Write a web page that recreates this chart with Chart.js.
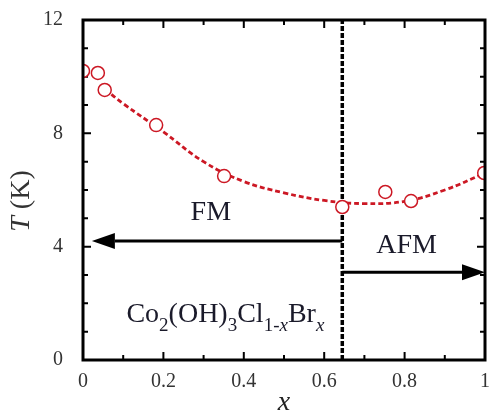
<!DOCTYPE html>
<html>
<head>
<meta charset="utf-8">
<script src="https://cdn.jsdelivr.net/npm/chart.js@4.4.1/dist/chart.umd.min.js"></script>
<style>
  html, body { margin: 0; padding: 0; background: #fff; }
  #wrap { width: 493px; height: 419px; }
</style>
</head>
<body>
<div id="wrap"><canvas id="phaseChart" width="493" height="419"></canvas></div>
<script>
// measured transition temperatures
const xValues = [0, 0.037, 0.054, 0.182, 0.351, 0.645, 0.752, 0.816, 0.998];
const tValues = [10.2, 10.13, 9.53, 8.29, 6.49, 5.4, 5.93, 5.61, 6.6];

// dashed guide curve through the data
const curveX = [0.055, 0.1, 0.2, 0.3, 0.4, 0.5, 0.6, 0.7, 0.8, 0.9, 1.0];
const curveT = [9.55, 9.05, 8.05, 7.0, 6.3, 5.9, 5.63, 5.52, 5.6, 6.0, 6.6];

// phase boundary and arrows
const boundaryX = 0.645;
const fmArrow = { from: boundaryX, to: 0.022, t: 4.2 };
const afmArrow = { from: boundaryX, to: 1.0, t: 3.1 };

const xTicks = [0, 0.2, 0.4, 0.6, 0.8, 1];
const yTicks = [0, 4, 8, 12];

const serif = "'Liberation Serif', 'DejaVu Serif', serif";
const red = 'rgb(204, 24, 36)';

function toPoints(xs, ys) {
    return xs.map((x, i) => ({ x: x, y: ys[i] }));
}

// inward ticks, frame, arrows and labels
const decorPlugin = {
    id: 'decor',
    beforeDatasetsDraw(chart) {
        const ctx = chart.ctx;
        const a = chart.chartArea;
        const xs = chart.scales.x;
        const ys = chart.scales.y;
        ctx.save();
        ctx.strokeStyle = '#000';
        ctx.lineWidth = 2;
        for (let i = 1; i < 10; i++) {
            const px = xs.getPixelForValue(i / 10);
            const len = i % 2 === 0 ? 8 : 5;
            ctx.beginPath();
            ctx.moveTo(px, a.bottom); ctx.lineTo(px, a.bottom - len);
            ctx.moveTo(px, a.top); ctx.lineTo(px, a.top + len);
            ctx.stroke();
        }
        for (let v = 1; v < 12; v++) {
            const py = ys.getPixelForValue(v);
            const len = v % 4 === 0 ? 8 : 5;
            ctx.beginPath();
            ctx.moveTo(a.left, py); ctx.lineTo(a.left + len, py);
            ctx.moveTo(a.right, py); ctx.lineTo(a.right - len, py);
            ctx.stroke();
        }
        ctx.restore();
    },
    afterDatasetsDraw(chart) {
        const ctx = chart.ctx;
        const a = chart.chartArea;
        const xs = chart.scales.x;
        const ys = chart.scales.y;
        ctx.save();

        // arrows
        [fmArrow, afmArrow].forEach(ar => {
            const x0 = xs.getPixelForValue(ar.from);
            const x1 = xs.getPixelForValue(ar.to);
            const py = ys.getPixelForValue(ar.t);
            const dir = x1 > x0 ? 1 : -1;
            const headLen = 23, headHalf = 8;
            ctx.strokeStyle = '#000';
            ctx.lineWidth = 3;
            ctx.beginPath();
            ctx.moveTo(x0, py);
            ctx.lineTo(x1 - dir * headLen, py);
            ctx.stroke();
            ctx.fillStyle = '#000';
            ctx.beginPath();
            ctx.moveTo(x1, py);
            ctx.lineTo(x1 - dir * headLen, py - headHalf);
            ctx.lineTo(x1 - dir * headLen, py + headHalf);
            ctx.closePath();
            ctx.fill();
        });

        // phase labels
        ctx.fillStyle = '#1a1a2a';
        ctx.textAlign = 'center';
        ctx.textBaseline = 'middle';
        ctx.font = '28px ' + serif;
        ctx.fillText('FM', xs.getPixelForValue(0.318), ys.getPixelForValue(5.2));
        ctx.fillText('AFM', xs.getPixelForValue(0.805), ys.getPixelForValue(4.05));

        // chemical formula with subscripts
        const parts = [
            ['Co', 0, false], ['2', 1, false], ['(OH)', 0, false], ['3', 1, false],
            ['Cl', 0, false], ['1-', 1, false], ['x', 1, true], ['Br', 0, false], ['x', 1, true]
        ];
        let px = xs.getPixelForValue(0.108);
        const base = ys.getPixelForValue(1.34);
        ctx.textAlign = 'left';
        ctx.textBaseline = 'alphabetic';
        parts.forEach(p => {
            const sub = p[1] === 1;
            ctx.font = (p[2] ? 'italic ' : '') + (sub ? '19px ' : '28px ') + serif;
            ctx.fillText(p[0], px, sub ? base + 9 : base);
            px += ctx.measureText(p[0]).width;
        });

        // frame
        ctx.strokeStyle = '#000';
        ctx.lineWidth = 3;
        ctx.strokeRect(a.left, a.top, a.right - a.left, a.bottom - a.top);

        // y title: T (K)
        ctx.translate(22, 201);
        ctx.rotate(-Math.PI / 2);
        ctx.fillStyle = '#333';
        ctx.textBaseline = 'middle';
        ctx.font = 'italic 28px ' + serif;
        const tw = ctx.measureText('T ').width;
        ctx.font = '28px ' + serif;
        const kw = ctx.measureText('(K)').width;
        let sx = -(tw + kw) / 2;
        ctx.font = 'italic 28px ' + serif;
        ctx.fillText('T ', sx, 0);
        ctx.font = '28px ' + serif;
        ctx.fillText('(K)', sx + tw, 0);
        ctx.restore();
    }
};

const ctx = document.getElementById('phaseChart').getContext('2d');
new Chart(ctx, {
    type: 'scatter',
    data: {
        datasets: [
            {
                label: 'data',
                data: toPoints(xValues, tValues),
                showLine: false,
                pointStyle: 'circle',
                pointRadius: 6.5,
                pointBorderWidth: 1.5,
                pointBorderColor: red,
                pointBackgroundColor: '#fff',
                order: 0
            },
            {
                label: 'fit',
                data: toPoints(curveX, curveT),
                showLine: true,
                borderColor: red,
                borderWidth: 2.8,
                borderDash: [5, 3],
                pointRadius: 0,
                tension: 0.4,
                order: 1
            },
            {
                label: 'boundary',
                data: [{ x: boundaryX, y: 0 }, { x: boundaryX, y: 12 }],
                showLine: true,
                borderColor: '#000',
                borderWidth: 3.5,
                borderDash: [5, 2],
                pointRadius: 0,
                order: 2
            }
        ]
    },
    options: {
        responsive: false,
        animation: false,
        layout: { padding: { left: 0, right: 3, top: 20, bottom: 0 } },
        plugins: {
            legend: { display: false },
            tooltip: { enabled: false }
        },
        scales: {
            x: {
                type: 'linear',
                min: 0,
                max: 1,
                afterFit: s => { s.height = 59; s.paddingLeft = 0; s.paddingRight = 0; },
                afterBuildTicks: s => { s.ticks = xTicks.map(v => ({ value: v })); },
                grid: { display: false, drawTicks: false },
                border: { display: false },
                ticks: {
                    padding: 10,
                    color: '#333',
                    font: { family: serif, size: 20 },
                    callback: v => String(v)
                },
                title: {
                    display: true,
                    text: 'x',
                    color: '#222',
                    padding: { top: 2, bottom: 0 },
                    font: { family: serif, size: 28, style: 'italic' }
                }
            },
            y: {
                type: 'linear',
                min: 0,
                max: 12,
                afterFit: s => { s.width = 83; s.paddingTop = 0; s.paddingBottom = 0; },
                afterBuildTicks: s => { s.ticks = yTicks.map(v => ({ value: v })); },
                grid: { display: false, drawTicks: false },
                border: { display: false },
                ticks: {
                    padding: 20,
                    color: '#333',
                    font: { family: serif, size: 20 },
                    callback: v => String(v)
                }
            }
        }
    },
    plugins: [decorPlugin]
});
</script>
</body>
</html>
